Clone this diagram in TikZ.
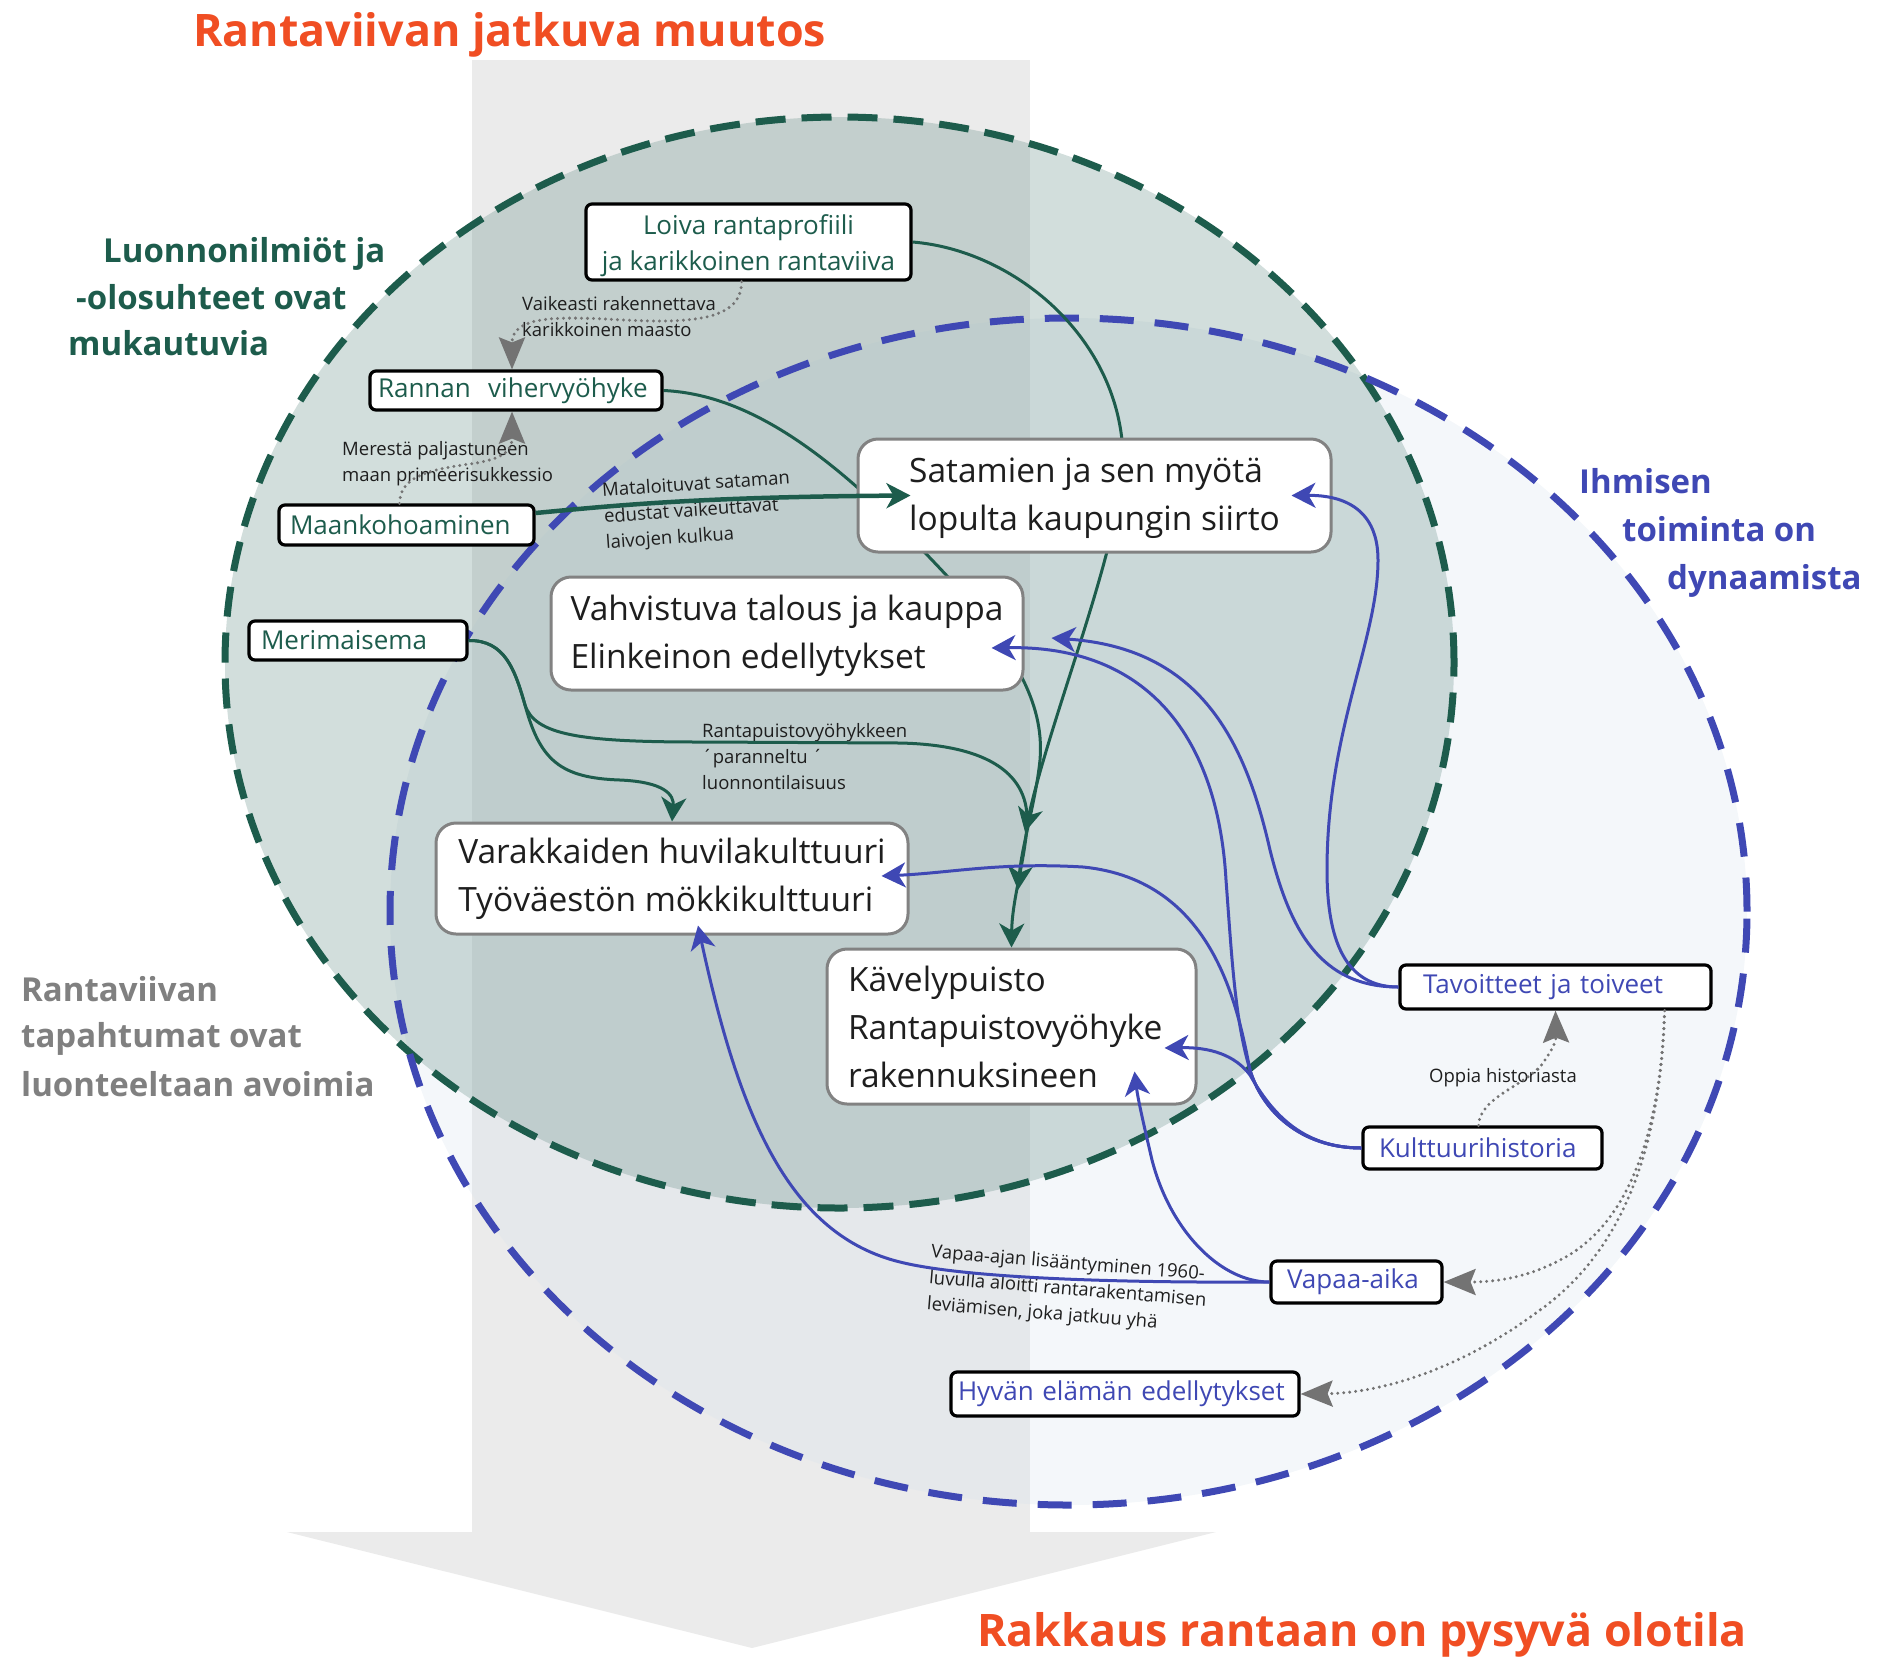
\documentclass[tikz,border=0pt]{standalone}
\usepackage{fontspec}
\setmainfont{Open Sans}
\usetikzlibrary{arrows.meta,calc}
\definecolor{dgreen}{RGB}{29,92,76}
\definecolor{dblue}{RGB}{63,72,180}
\definecolor{orng}{RGB}{240,78,35}
\definecolor{bandgray}{RGB}{235,235,235}
\definecolor{gfill}{RGB}{105,145,138}
\definecolor{bfill}{RGB}{218,228,238}
\definecolor{htgray}{RGB}{128,128,128}
\definecolor{dotgray}{RGB}{115,115,115}
\definecolor{boxgray}{RGB}{130,130,130}
\definecolor{txt}{RGB}{30,30,30}
\pgfdeclarelayer{bg}
\pgfdeclarelayer{edgebg}
\pgfsetlayers{bg,edgebg,main}
\newcommand{\lowr}[2]{\raisebox{-#1}[\height][\depth]{#2}}
\tikzset{
  sbox/.style={draw=black, line width=3.2pt, fill=white, rounded corners=6pt, inner ysep=0pt, align=left, font=\fontsize{26}{30}\selectfont},
  gtext/.style={text=dgreen},
  btext/.style={text=dblue},
  bbox/.style={draw=boxgray, line width=3pt, fill=white, rounded corners=20pt, align=left, font=\fontsize{33.5}{48}\selectfont, text=txt},
  garrow/.style={draw=dgreen, line width=3pt, -{Stealth[length=24pt,width=25pt,inset=7pt]}},
  barrow/.style={draw=dblue, line width=3pt, -{Stealth[length=24pt,width=25pt,inset=7pt]}},
  darrow/.style={draw=dotgray, line width=3.3pt, line cap=round, dash pattern=on 0pt off 6pt, -{Stealth[length=32pt,width=26pt,inset=5pt,line cap=butt]}},
  lbl/.style={font=\fontsize{18.5}{26}\selectfont, text=txt, align=left, inner sep=0pt},
  headg/.style={font=\bfseries\fontsize{33}{47}\selectfont, inner sep=0pt, anchor=base west},
  titl/.style={font=\bfseries\fontsize{44.8}{50}\selectfont, text=orng, inner sep=0pt, anchor=base west},
}
\begin{document}
\begin{tikzpicture}[x=1pt,y=-1pt]
\useasboundingbox (0,0) rectangle (1894,1657);
\begin{pgfonlayer}{bg}
  \fill[bandgray] (472,60) rectangle (1030,1532);
  \fill[bandgray] (287,1532) -- (1216,1532) -- (752,1648) -- cycle;
  \fill[bfill, fill opacity=0.3] (1068.5,911.5) ellipse [x radius=678.5pt, y radius=593.5pt];
  \fill[gfill, fill opacity=0.3] (839.5,662.5) ellipse [x radius=614.5pt, y radius=545.5pt];
  \draw[dgreen, line width=7pt, dash pattern=on 30pt off 16pt] (839.5,662.5) ellipse [x radius=614.5pt, y radius=545.5pt];
  \draw[dblue, line width=7pt, dash pattern=on 34pt off 21pt] (1068.5,911.5) ellipse [x radius=678.5pt, y radius=593.5pt];
\end{pgfonlayer}

% titles and headings
\node[titl] (t1) at (193,46) {Rantaviivan jatkuva muutos};
\node[titl] (t2) at (977,1646) {Rakkaus rantaan on pysyvä olotila};
\node[headg, text=dgreen] (hg1) at (103,262) {Luonnonilmiöt ja};
\node[headg, text=dgreen] (hg2) at (76,309) {-olosuhteet ovat};
\node[headg, text=dgreen] (hg3) at (68,355) {mukautuvia};
\node[headg, text=dblue] (hb1) at (1579,493) {Ihmisen};
\node[headg, text=dblue] (hb2) at (1622,541) {toiminta on};
\node[headg, text=dblue] (hb3) at (1667,589) {dynaamista};
\node[headg, text=htgray] (hr1) at (21,1001) {Rantaviivan};
\node[headg, text=htgray] (hr2) at (21,1047) {tapahtumat ovat};
\node[headg, text=htgray] (hr3) at (21,1096) {luonteeltaan avoimia};

% small boxes
\node[sbox, gtext, align=center, font=\fontsize{26}{36}\selectfont, minimum width=325pt, minimum height=76pt] (loiva) at (748.5,242) {\lowr{4pt}{Loiva rantaprofiili}\\\lowr{4pt}{ja karikkoinen rantaviiva}};
\node[sbox, gtext, minimum height=39pt, text width=276pt, inner xsep=8pt] (rannan) at (516,390.5) {Rannan\ \ vihervyöhyke};
\node[sbox, gtext, minimum height=40pt, text width=233pt, inner xsep=11pt] (maan) at (406.5,525) {Maankohoaminen};
\node[sbox, gtext, minimum height=39pt, text width=194pt, inner xsep=12pt] (mer) at (358,640.5) {Merimaisema};
\node[sbox, btext, minimum height=44pt, text width=265pt, inner xsep=23pt] (tav) at (1555.5,987) {Tavoitteet ja toiveet};
\node[sbox, btext, minimum height=42pt, text width=207pt, inner xsep=16pt] (kult) at (1482.5,1148) {Kulttuurihistoria};
\node[sbox, btext, minimum height=42pt, text width=139pt, inner xsep=16pt] (vap) at (1356.5,1282) {Vapaa-aika};
\node[sbox, btext, minimum height=44pt, text width=334pt, inner xsep=7pt] (hyv) at (1125,1394) {\mbox{Hyvän elämän edellytykset}};

% big boxes
\node[bbox, minimum width=473pt, minimum height=113pt] (sat) at (1094.5,495.5) {\lowr{3pt}{Satamien ja sen myötä}\\\lowr{3pt}{lopulta kaupungin siirto}};
\node[bbox, minimum width=472pt, minimum height=113pt] (vah) at (787,633.5) {\lowr{2pt}{Vahvistuva talous ja kauppa}\\\lowr{2pt}{Elinkeinon edellytykset}};
\node[bbox, minimum width=472pt, minimum height=111pt] (var) at (672,878.5) {Varakkaiden huvilakulttuuri\\Työväestön mökkikulttuuri};
\node[bbox, minimum height=155pt, text width=327pt, inner xsep=21pt] (kav) at (1011.5,1026.5) {Kävelypuisto\\Rantapuistovyöhyke\\rakennuksineen};

% edge labels
\node[lbl, anchor=west] (l1) at (522,317) {Vaikeasti rakennettava\\karikkoinen maasto};
\node[lbl, anchor=west] (l2) at (342,464) {Merestä paljastuneen\\maan primeerisukkessio};
\node[lbl, anchor=west, rotate=4] (l3) at (604,518) {Mataloituvat sataman\\edustat vaikeuttavat\\laivojen kulkua};
\node[lbl, anchor=west] (l4) at (702,757) {Rantapuistovyöhykkeen\\´paranneltu ´\\luonnontilaisuus};
\node[lbl, anchor=west] (l5) at (1429,1078) {Oppia historiasta};
\node[lbl, anchor=west, rotate=-4.6] (l6) at (929,1279) {Vapaa-ajan lisääntyminen 1960-\\luvulla aloitti rantarakentamisen\\leviämisen, joka jatkuu yhä};

\coordinate (ta) at (1025,832);
\coordinate (tb) at (1018,890);

% green connectors passing behind boxes
\begin{pgfonlayer}{edgebg}
  \draw[garrow] (loiva.east) .. controls (1010,250) and (1110,330) .. (1122,440)
     .. controls (1132,520) and (1055,700) .. (ta);
  \draw[garrow] (rannan.east) .. controls (760,395) and (850,470) .. (960,590)
     .. controls (1010,650) and (1045,700) .. (1040,760)
     .. controls (1036,800) and (1022,845) .. (tb);
\end{pgfonlayer}

% green connectors
\draw[garrow, line width=4.5pt] ($(maan.east)+(0,-12)$) .. controls (620,505) and (700,497) .. ($(sat.west)+(54,0)$);
\draw[garrow] (mer.east) .. controls (505,640) and (515,670) .. (525,705)
   .. controls (540,760) and (560,778) .. (620,780)
   .. controls (665,782) and (674,795) .. (var.north);
\draw[garrow] (mer.east) .. controls (505,640) and (515,670) .. (525,705)
   .. controls (535,735) and (580,742) .. (700,742) -- (900,743)
   .. controls (990,745) and (1030,775) .. (1027,825)
   .. controls (1025,860) and (1012,900) .. (kav.north);

% blue connectors
\draw[barrow] (tav.west) .. controls (1345,987) and (1327,940) .. (1327,870)
   .. controls (1327,730) and (1378,640) .. (1378,560)
   .. controls (1378,510) and (1345,495) .. ($(sat.east)+(-41,0)$);
\draw[barrow] (tav.west) .. controls (1320,987) and (1290,930) .. (1270,850)
   .. controls (1245,740) and (1200,648) .. ($(vah.east)+(27,4.5)$);
\draw[barrow] (kult.west) .. controls (1300,1148) and (1262,1110) .. (1250,1070)
   .. controls (1235,1020) and (1232,960) .. (1226,880)
   .. controls (1218,740) and (1150,645) .. ($(vah.east)+(-33,14.5)$);
\draw[barrow] (kult.west) .. controls (1300,1148) and (1262,1110) .. (1250,1070)
   .. controls (1238,1010) and (1215,880) .. (1083,867)
   .. controls (1000,862) and (950,873) .. ($(var.east)+(-28,-2.5)$);
\draw[barrow] (kult.west) .. controls (1300,1148) and (1270,1110) .. (1250,1075)
   .. controls (1235,1055) and (1210,1047) .. ($(kav.east)+(-33,21.5)$);
\draw[barrow] (vap.west) .. controls (1220,1282) and (1170,1230) .. (1152,1160)
   .. controls (1145,1130) and (1138,1100) .. ($(kav.south east)+(-63,-34)$);
\draw[barrow] (vap.west) .. controls (1100,1283) and (960,1277) .. (900,1262)
   .. controls (790,1235) and (740,1120) .. ($(var.south)+(26,-10)$);

% dotted connectors
\draw[darrow] ($(loiva.south)+(-7,0)$) .. controls (742,310) and (715,320) .. (667,321)
   .. controls (600,322) and (512,305) .. ($(rannan.north)+(-4,0)$);
\draw[darrow] ($(maan.north)+(-7,0)$) .. controls (400,478) and (425,470) .. (470,464)
   .. controls (505,459) and (512,450) .. ($(rannan.south)+(-4,0)$);
\draw[darrow] ($(kult.north)+(-4,0)$) .. controls (1480,1095) and (1530,1085) .. (1545,1060)
   .. controls (1555,1045) and (1556,1040) .. (tav.south);
\draw[darrow] ($(tav.south east)+(-48,0)$) .. controls (1660,1150) and (1620,1230) .. (1560,1260)
   .. controls (1530,1276) and (1500,1282) .. (vap.east);
\draw[darrow] ($(tav.south east)+(-48,0)$) .. controls (1660,1170) and (1610,1260) .. (1540,1310)
   .. controls (1460,1370) and (1380,1393) .. (hyv.east);
\end{tikzpicture}
\end{document}
